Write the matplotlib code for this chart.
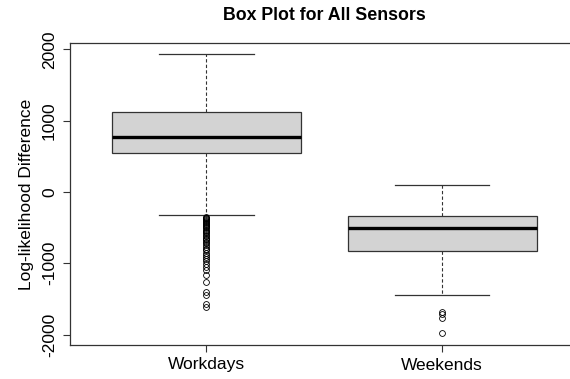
import numpy as np
import matplotlib.pyplot as plt

plt.rcParams['font.family'] = ['Liberation Sans', 'DejaVu Sans']

groups = ['Workdays', 'Weekends']
# five-number summaries
whisker_low = [-322, -1448]
q1 = [546, -822]
median = [775, -510]
q3 = [1120, -342]
whisker_high = [1933, 98]

outliers_workdays = [-345, -360, -372, -385, -398, -410, -425, -440, -455, -468,
                     -482, -497, -512, -530, -548, -565, -582, -600, -620, -640,
                     -660, -680, -700, -722, -745, -770, -795, -820, -850, -880,
                     -910, -940, -975, -1010, -1050, -1090, -1160, -1260, -1406,
                     -1452, -1578, -1620]
outliers_weekends = [-1680, -1718, -1774, -1984]
outliers = [outliers_workdays, outliers_weekends]

yticks = [-2000, -1000, 0, 1000, 2000]

stats = []
for i, name in enumerate(groups):
    stats.append({'label': name, 'whislo': whisker_low[i], 'q1': q1[i],
                  'med': median[i], 'q3': q3[i], 'whishi': whisker_high[i],
                  'fliers': outliers[i]})

W, H = 570, 379
fig = plt.figure(figsize=(W / 100, H / 100), dpi=100)
# plot region in pixels; the original was cut off on the right
left, right, top, bottom = 69.6, 570, 43, 345
ax = fig.add_axes([left / W, (H - bottom) / H, (right - left) / W, (bottom - top) / H])

edge = '#333333'
ax.bxp(stats, positions=[1, 2], widths=0.8, patch_artist=True,
       boxprops=dict(facecolor='#D3D3D3', edgecolor=edge, linewidth=0.9),
       medianprops=dict(color='black', linewidth=2.4, solid_capstyle='butt'),
       whiskerprops=dict(color=edge, linewidth=0.8, linestyle=(0, (3, 2))),
       capprops=dict(color=edge, linewidth=0.9),
       flierprops=dict(marker='o', markersize=4.2, markerfacecolor='none',
                       markeredgecolor='black', markeredgewidth=0.6),
       capwidths=0.4)

ax.set_xlim(0.42, 2.542)
ax.set_ylim(-2147, 2090)
ax.set_yticks(yticks)
ax.set_yticklabels([str(v) for v in yticks], rotation=90, va='center', fontsize=12.5)
ax.set_xticks([1, 2])
ax.set_xticklabels(groups, fontsize=12.5)
ax.tick_params(direction='out', length=5, width=0.8, color=edge, pad=4)
for s in ax.spines.values():
    s.set_color(edge)
    s.set_linewidth(0.9)
ax.spines['right'].set_visible(False)

ax.set_ylabel('Log-likelihood Difference', fontsize=12.5, labelpad=6)
fig.text((69.6 + 579) / 2 / W, 1 - 15 / H, 'Box Plot for All Sensors',
         ha='center', va='center', fontsize=12.8, fontweight='bold')

fig.savefig('out.png', dpi=100)
